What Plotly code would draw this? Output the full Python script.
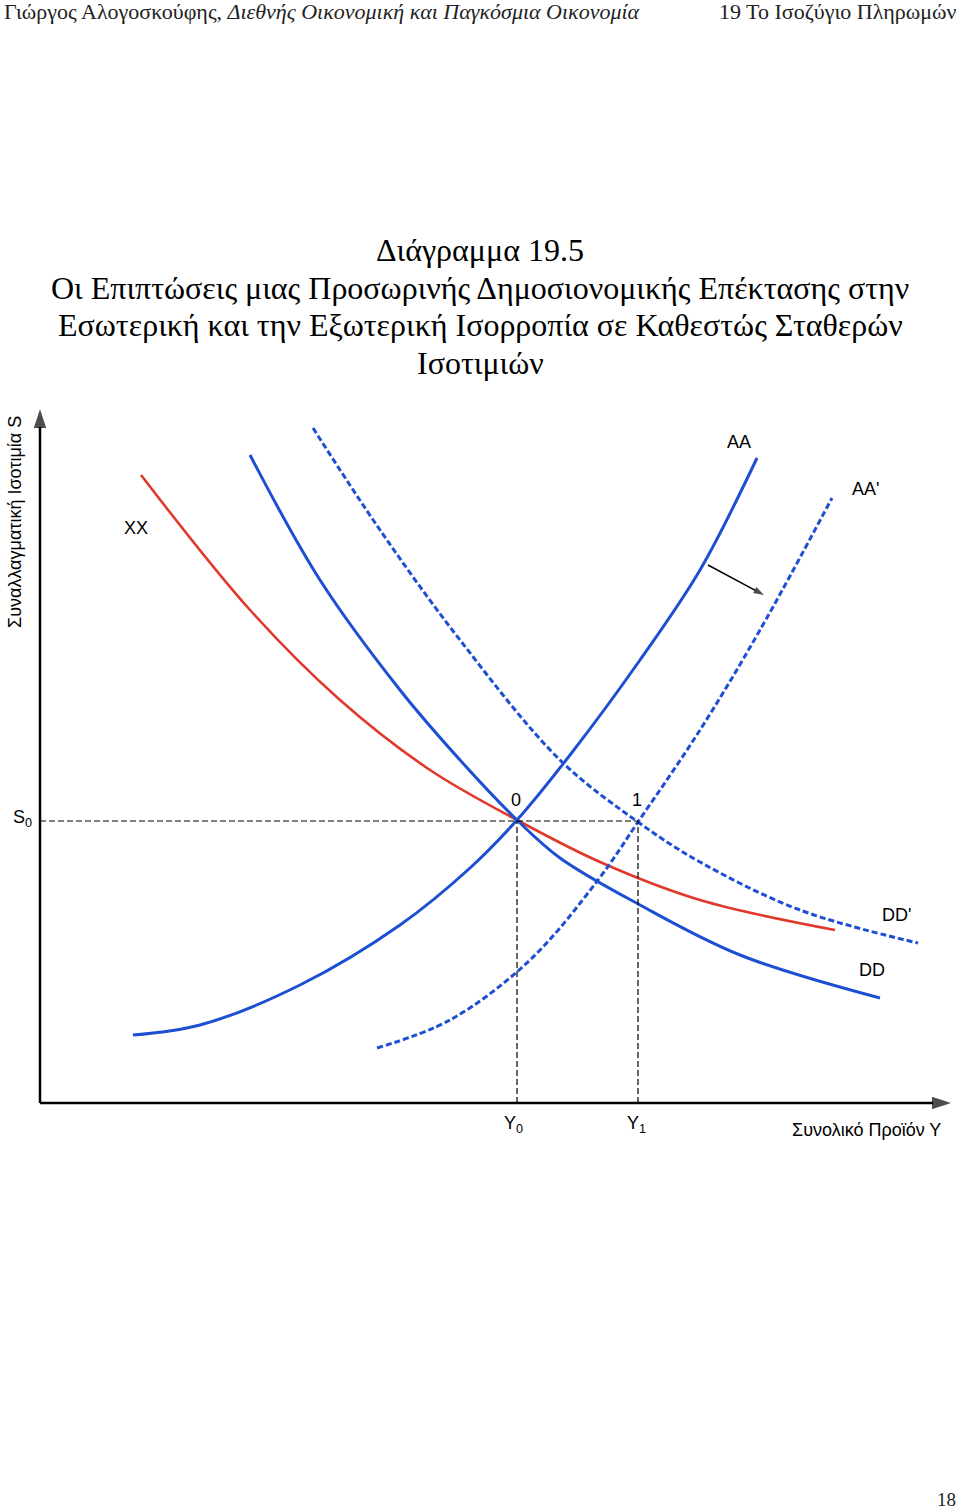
import plotly.graph_objects as go

# diagram units: origin at the corner of the two axes, x = output Y, y = exchange rate S
xx_x = [101, 210, 300, 390, 477, 560, 660, 795]
xx_y = [628, 493, 403, 333, 283, 241, 203, 173]

dd_x = [210, 280, 360, 420, 477, 520, 600, 700, 840]
dd_y = [648, 523, 413, 343, 283, 245, 198, 148, 105]

dd2_x = [273, 340, 420, 520, 598, 660, 760, 878]
dd2_y = [675, 573, 463, 343, 281, 241, 193, 160]

aa_x = [93, 160, 260, 360, 430, 477, 530, 600, 660, 717]
aa_y = [68, 78, 118, 178, 235, 283, 348, 443, 533, 645]

aa2_x = [337, 410, 490, 558, 598, 660, 720, 792]
aa2_y = [55, 83, 143, 223, 281, 373, 473, 605]

eq_x = [477, 598]      # Y0, Y1
eq_y = [282, 282]      # S0
eq_labels = ['0', '1']

title_lines = ['Διάγραμμα 19.5',
               'Οι Επιπτώσεις μιας Προσωρινής Δημοσιονομικής Επέκτασης στην',
               'Εσωτερική και την Εξωτερική Ισορροπία σε Καθεστώς Σταθερών',
               'Ισοτιμιών']

RED = '#e0392b'
BLUE = '#1d4fd3'
SANS = 'Liberation Sans, Arial, sans-serif'
SERIF = 'Liberation Serif, DejaVu Serif, serif'

fig = go.Figure()


def curve(x, y, color, dash='solid', width=3):
    fig.add_trace(go.Scatter(x=x, y=y, mode='lines',
                             line=dict(color=color, width=width, dash=dash,
                                       shape='spline', smoothing=1.0),
                             hoverinfo='skip', showlegend=False))


curve(xx_x, xx_y, RED, width=2.6)
curve(dd_x, dd_y, BLUE)
curve(aa_x, aa_y, BLUE)
curve(dd2_x, dd2_y, BLUE, dash='6px,3px')
curve(aa2_x, aa2_y, BLUE, dash='6px,3px')

# dashed guide lines to the axes
guide = dict(color='black', width=1.2, dash='6px,3px')
fig.add_trace(go.Scatter(x=[0, eq_x[1]], y=[eq_y[0], eq_y[1]], mode='lines',
                         line=guide, hoverinfo='skip', showlegend=False))
for xv, yv in zip(eq_x, eq_y):
    fig.add_trace(go.Scatter(x=[xv, xv], y=[0, yv], mode='lines',
                             line=guide, hoverinfo='skip', showlegend=False))


def arrow_line(x, y, width, head):
    fig.add_trace(go.Scatter(x=x, y=y, mode='lines+markers',
                             line=dict(color='black', width=width),
                             marker=dict(symbol='arrow', size=[0, head], angleref='previous',
                                         color='black', line=dict(width=0)),
                             hoverinfo='skip', showlegend=False))


# axes with arrow heads, and the shift arrow AA -> AA'
arrow_line([0, 0], [0, 694], 2.5, 20)
arrow_line([0, 911], [0, 0], 2.5, 20)
arrow_line([668, 724], [538, 508], 1.5, 11)


def label(x, y, text, size=18, xanchor='center', font=SANS, angle=0, color='black'):
    fig.add_annotation(x=x, y=y, xref='x', yref='y', text=text, showarrow=False,
                       xanchor=xanchor, yanchor='middle', textangle=angle,
                       font=dict(family=font, size=size, color=color))


label(96, 575, 'XX')
label(699, 661, 'AA')
label(825, 614, "AA'")
label(856, 188, "DD'")
label(832, 133, 'DD')
for xv, yv, t in zip(eq_x, eq_y, eq_labels):
    label(xv - 1, yv + 21, t)
label(-18, 285, 'S<sub>0</sub>')
label(eq_x[0] - 4, -21, 'Y<sub>0</sub>')
label(eq_x[1] - 2, -21, 'Y<sub>1</sub>')
label(903, -27, 'Συνολικό Προϊόν Υ', size=18, xanchor='right')
label(-25, 581, 'Συναλλαγματική Ισοτιμία S', size=18, angle=-90)

# title
for i, t in enumerate(title_lines):
    label(440, 853 - 37.5 * i, t, size=32, font=SERIF)

# page header and page number
label(-38, 1092, 'Γιώργος Αλογοσκούφης, <i>Διεθνής Οικονομική και Παγκόσμια Οικονομία</i>',
      size=22, xanchor='left', font=SERIF, color='#222')
label(918, 1092, '19 Το Ισοζύγιο Πληρωμών', size=22, xanchor='right', font=SERIF, color='#222')
label(918, -396, '18', size=19, xanchor='right', font=SERIF, color='#222')

fig.update_layout(width=960, height=1512, margin=dict(l=0, r=0, t=0, b=0),
                  plot_bgcolor='white', paper_bgcolor='white', showlegend=False)
fig.update_xaxes(range=[-40, 920], visible=False, fixedrange=True)
fig.update_yaxes(range=[-409, 1103], visible=False, fixedrange=True)

# drop the browser's default 8px body margin so the page lines up with the window
fig.write_html("out.html", config={'displayModeBar': False},
               post_script="document.body.style.margin='0';")
